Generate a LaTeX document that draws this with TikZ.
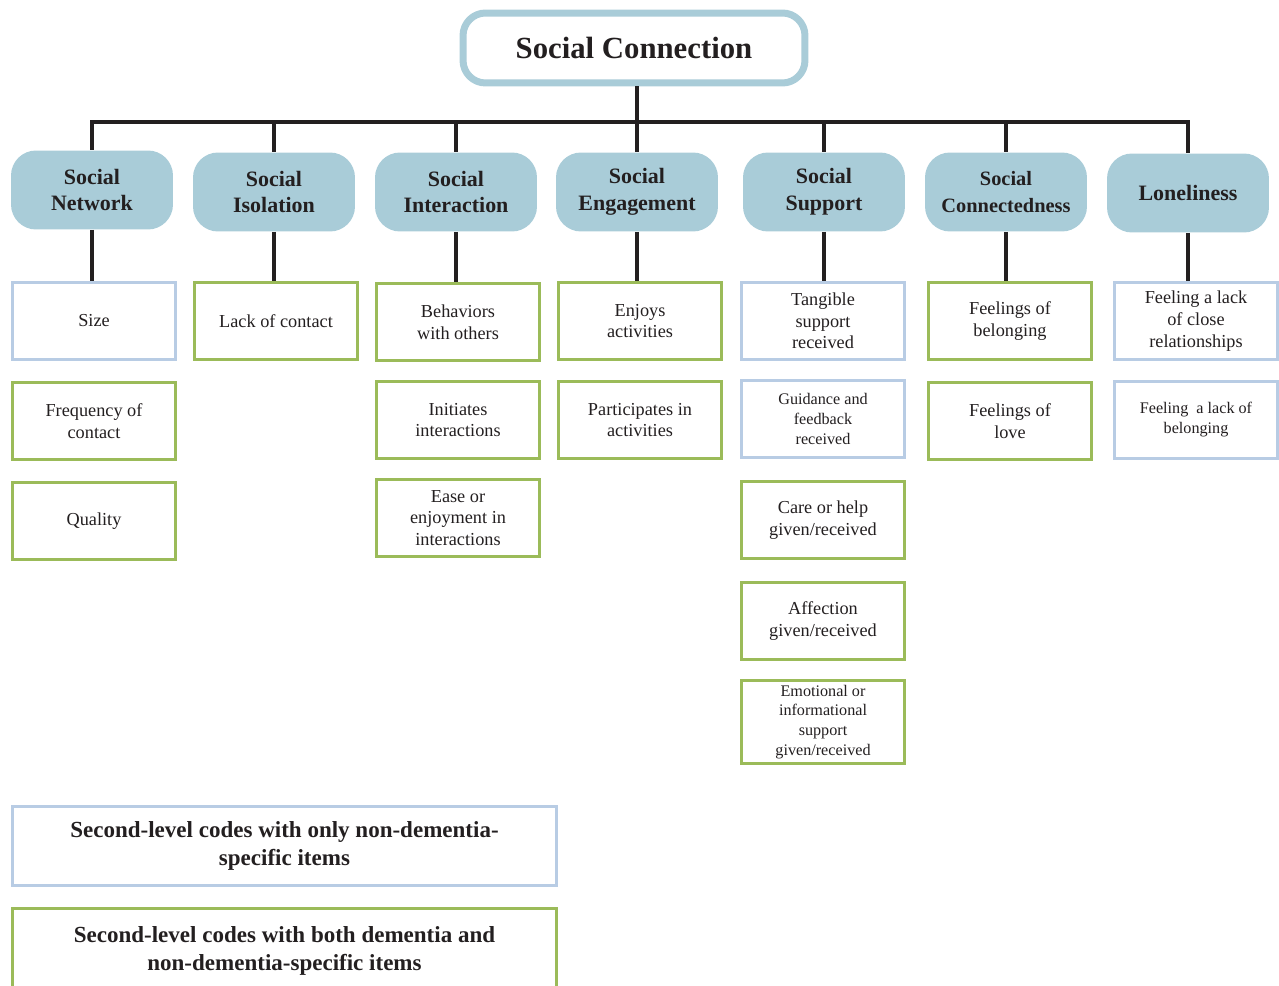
\documentclass[tikz,border=0pt]{standalone}
\usepackage{fontspec}
\setmainfont{Liberation Serif}
\usetikzlibrary{positioning, calc}
\definecolor{capblue}{HTML}{A9CCD8}
\definecolor{codeblue}{HTML}{B8CCE4}
\definecolor{codegreen}{HTML}{9BBB59}
\definecolor{ink}{HTML}{231F20}
\tikzstyle{Title} = [
rectangle, rounded corners=0.45cm,
draw=capblue, line width=0.14cm, fill=white,
minimum width=6.84cm, minimum height=1.4cm,
text=ink, font=\fontsize{17.5}{21}\selectfont\bfseries]
\tikzstyle{Theme} = [
rectangle, rounded corners=0.5cm, fill=capblue,
minimum width=3.24cm, minimum height=1.58cm, align=center,
text=ink, font=\fontsize{12.5}{15.3}\selectfont\bfseries]
\tikzstyle{Code} = [
rectangle, line width=0.06cm, fill=white, inner sep=2pt,
minimum width=3.28cm, minimum height=1.54cm, align=center,
text=ink, font=\fontsize{10.4}{12.3}\selectfont]
\tikzstyle{Blue} = [Code, draw=codeblue]
\tikzstyle{Green} = [Code, draw=codegreen]
\tikzstyle{Small} = [font=\fontsize{9.2}{11.3}\selectfont]
\tikzstyle{Legend} = [minimum width=10.88cm, font=\fontsize{13.1}{16.4}\selectfont\bfseries]
\tikzstyle{Link} = [line width=0.08cm, draw=ink]

\begin{document}
\begin{tikzpicture}[x=0.02cm, y=-0.02cm]
    \useasboundingbox (0,0) rectangle (1279,986);
    \node [Title] (top) at (634,48) {Social Connection};
    % first-level codes
    \node [Theme] (net) at (92,190) {Social\\Network};
    \node [Theme] (iso) at (274,192) {Social\\Isolation};
    \node [Theme] (int) at (456,192) {Social\\Interaction};
    \node [Theme] (eng) at (637,192) {Social\\Engagement};
    \node [Theme] (sup) at (824,192) {Social\\Support};
    \node [Theme, font=\fontsize{11.6}{15.3}\selectfont\bfseries] (con) at (1006,192) {Social\\Connectedness};
    \node [Theme] (lon) at (1188,193) {Loneliness};
    % second-level codes
    \node [Blue] (size) at (94,321) {Size};
    \node [Green, below=0.4cm of size] (freq) {Frequency of\\contact};
    \node [Green, below=0.4cm of freq] (qual) {Quality};
    \node [Green] (lack) at (276,321) {Lack of contact};
    \node [Green] (behav) at (458,322) {Behaviors\\with others};
    \node [Green, below=0.36cm of behav] (init) {Initiates\\interactions};
    \node [Green, below=0.36cm of init] (ease) {Ease or\\enjoyment in\\interactions};
    \node [Green] (enjoy) at (640,321) {Enjoys\\activities};
    \node [Green, below=0.38cm of enjoy] (part) {Participates in\\activities};
    \node [Blue] (tang) at (823,321) {Tangible\\support\\received};
    \node [Blue, Small, below=0.36cm of tang] (guide) {Guidance and\\feedback\\received};
    \node [Green, below=0.42cm of guide] (care) {Care or help\\given/received};
    \node [Green, below=0.42cm of care] (affec) {Affection\\given/received};
    \node [Green, Small, minimum height=1.66cm, below=0.36cm of affec] (emot) {Emotional or\\informational\\support\\given/received};
    \node [Green] (belong) at (1010,321) {Feelings of\\belonging};
    \node [Green, below=0.4cm of belong] (love) {Feelings of\\love};
    \node [Blue] (close) at (1196,321) {Feeling a lack\\of close\\relationships};
    \node [Blue, Small, below=0.38cm of close] (lackb) {Feeling\ \ a lack of\\belonging};
    % key
    \node [Blue, Legend, minimum height=1.58cm] (keyA) at (284.5,846) {Second-level codes with only non-dementia-\\specific items};
    \node [Green, Legend, minimum height=1.7cm] (keyB) at (284.5,951) {Second-level codes with both dementia and\\non-dementia-specific items};
    % tree lines
    \coordinate (bus) at (0,122);
    \draw [Link] (eng |- top.south) -- (eng |- bus);
    \draw [Link, line cap=rect] (net |- bus) -- (lon |- bus);
    \foreach \n in {net, iso, int, eng, sup, con, lon}
        \draw [Link] (\n |- bus) -- (\n.north);
    \foreach \a/\b in {net/size, iso/lack, int/behav, eng/enjoy, sup/tang, con/belong, lon/close}
        \draw [Link] (\a.south) -- (\a.south |- \b.north);
\end{tikzpicture}
\end{document}
